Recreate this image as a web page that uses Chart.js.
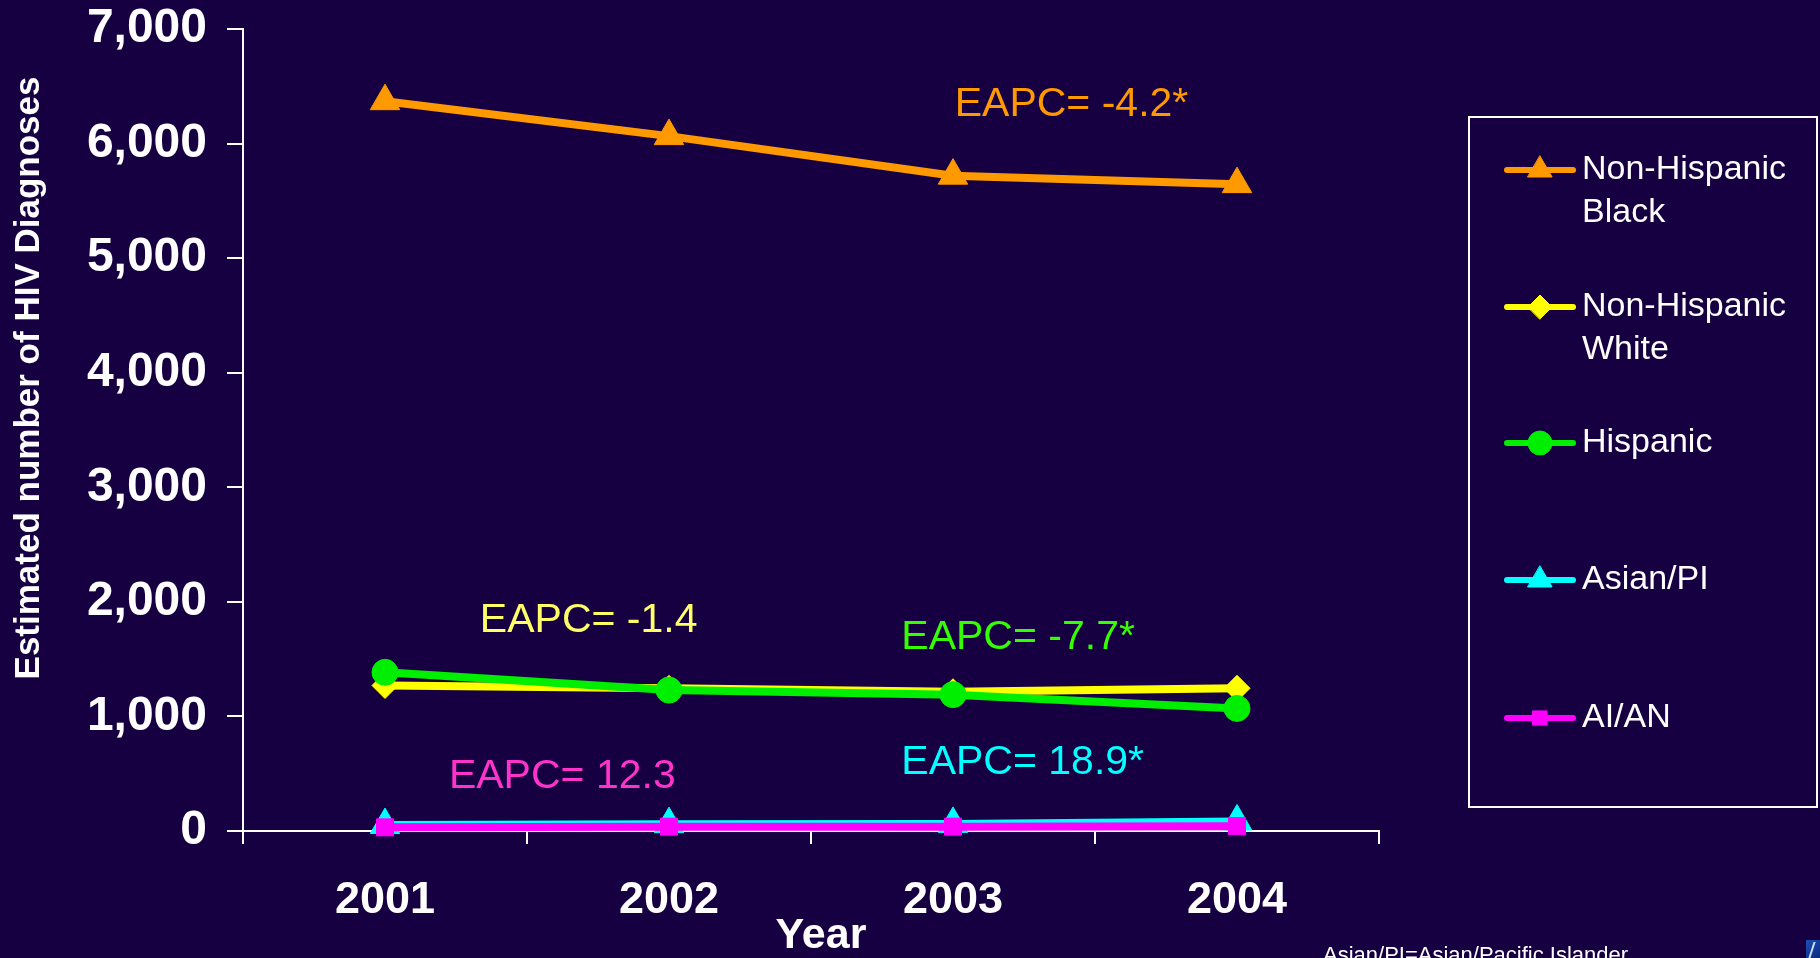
<!DOCTYPE html>
<html>
<head>
<meta charset="utf-8">
<script src="https://cdn.jsdelivr.net/npm/chart.js@4.4.1/dist/chart.umd.min.js"></script>
<style>
  html, body { margin: 0; padding: 0; background: #170042; overflow: hidden; }
  #wrap { position: relative; width: 1820px; height: 958px; }
  canvas { display: block; }
  #logo { position: absolute; left: 1806px; top: 940px; width: 14px; height: 18px;
          background: linear-gradient(135deg, #1d4fb8, #0b2a7a); }
  #logo:after { content: ''; position: absolute; left: 5px; top: 2px; width: 2px; height: 16px;
          background: #cfe0ff; transform: skewX(-18deg); }
</style>
</head>
<body>
<div id="wrap">
  <canvas id="chart" width="1820" height="958"></canvas>
  <div id="logo"></div>
</div>
<script>
// Estimated HIV diagnoses by race/ethnicity, 2001-2004
const years = ['2001', '2002', '2003', '2004'];
const blackValues    = [6370, 6065, 5720, 5646];
const whiteValues    = [1270, 1245, 1215, 1245];
const hispanicValues = [1385, 1230, 1190, 1070];
const asianValues    = [52, 60, 62, 83];
const aianValues     = [32, 38, 38, 42];

const seriesNames = ['Non-Hispanic\nBlack', 'Non-Hispanic\nWhite', 'Hispanic', 'Asian/PI', 'AI/AN'];
const yTickValues = [0, 1000, 2000, 3000, 4000, 5000, 6000, 7000];

// EAPC annotations: text, colour, anchor (category index, value)
const eapcText  = ['EAPC= -4.2*', 'EAPC= -1.4', 'EAPC= -7.7*', 'EAPC= 18.9*', 'EAPC= 12.3'];
const eapcColor = ['#ff9900', '#ffff66', '#33ff00', '#00ffff', '#ff33cc'];
const eapcX     = [2.006, 0.334, 1.818, 1.818, 0.225];
const eapcY     = [6340, 1835, 1690, 598, 476];

const BG = '#170042';
const FONT = "'Liberation Sans', Arial, sans-serif";

const colors  = ['#ff9900', '#ffff00', '#00ee00', '#00ffff', '#ff00ff'];
const styles  = ['triangle', 'rectRot', 'circle', 'triangle', 'rect'];
const radii   = [17, 13, 13, 17, 12];
const values  = [blackValues, whiteValues, hispanicValues, asianValues, aianValues];
const drawOrder = [5, 4, 3, 2, 1];

const datasets = values.map((v, i) => ({
  label: seriesNames[i].replace('\n', ' '),
  data: v,
  borderColor: colors[i],
  backgroundColor: colors[i],
  pointBackgroundColor: colors[i],
  pointBorderColor: colors[i],
  pointBorderWidth: 1,
  pointStyle: styles[i],
  pointRadius: radii[i],
  borderWidth: 8,
  tension: 0,
  clip: false,
  order: drawOrder[i]
}));

const decorPlugin = {
  id: 'decor',
  beforeDraw(chart) {
    const ctx = chart.ctx;
    ctx.save();
    ctx.fillStyle = BG;
    ctx.fillRect(0, 0, chart.width, chart.height);
    ctx.restore();
  },
  afterDraw(chart) {
    const ctx = chart.ctx;
    const xs = chart.scales.x, ys = chart.scales.y;
    ctx.save();

    // EAPC annotations
    ctx.font = '41px ' + FONT;
    ctx.textBaseline = 'middle';
    ctx.textAlign = 'left';
    eapcText.forEach((t, i) => {
      ctx.fillStyle = eapcColor[i];
      ctx.fillText(t, xs.getPixelForValue(eapcX[i]), ys.getPixelForValue(eapcY[i]));
    });

    // Axis titles
    ctx.fillStyle = '#ffffff';
    ctx.font = 'bold 43px ' + FONT;
    ctx.textAlign = 'center';
    ctx.fillText('Year', (chart.chartArea.left + chart.chartArea.right) / 2 + 10, 936);

    ctx.save();
    ctx.translate(29, 378);
    ctx.rotate(-Math.PI / 2);
    ctx.font = 'bold 35px ' + FONT;
    ctx.fillText('Estimated number of HIV Diagnoses', 0, 0);
    ctx.restore();

    // Footnote
    ctx.font = '22px ' + FONT;
    ctx.textAlign = 'left';
    ctx.textBaseline = 'alphabetic';
    ctx.fillText('Asian/PI=Asian/Pacific Islander', 1323, 962);

    // Legend
    const lx = 1469, ly = 117, lw = 348, lh = 690;
    ctx.strokeStyle = '#ffffff';
    ctx.lineWidth = 2;
    ctx.strokeRect(lx, ly, lw, lh);
    const rowY = [170, 307, 443, 580, 718];
    const legendR = [14, 12, 12, 14, 10];
    ctx.textBaseline = 'middle';
    ctx.font = '34px ' + FONT;
    seriesNames.forEach((name, i) => {
      const y = rowY[i];
      ctx.strokeStyle = colors[i];
      ctx.lineWidth = 6;
      ctx.lineCap = 'round';
      ctx.beginPath();
      ctx.moveTo(1507, y);
      ctx.lineTo(1573, y);
      ctx.stroke();
      ctx.fillStyle = colors[i];
      ctx.strokeStyle = colors[i];
      ctx.lineWidth = 1;
      Chart.helpers.drawPoint(ctx, { pointStyle: styles[i], radius: legendR[i], borderWidth: 1, rotation: 0 }, 1540, y);
      ctx.fillStyle = '#ffffff';
      name.split('\n').forEach((line, k) => ctx.fillText(line, 1582, y + k * 43));
    });
    ctx.restore();
  }
};

new Chart(document.getElementById('chart'), {
  type: 'line',
  data: { labels: years, datasets },
  plugins: [decorPlugin],
  options: {
    responsive: false,
    animation: false,
    devicePixelRatio: 1,
    layout: { padding: { left: 0, right: 441, top: 29, bottom: 0 } },
    plugins: { legend: { display: false }, tooltip: { enabled: false } },
    scales: {
      x: {
        type: 'category',
        offset: true,
        afterFit(s) { s.height = 127; s.paddingLeft = 0; s.paddingRight = 0; },
        grid: { offset: true, drawOnChartArea: false, color: '#ffffff', lineWidth: 2, tickLength: 13, tickWidth: 2 },
        border: { color: '#ffffff', width: 2 },
        ticks: { color: '#ffffff', font: { family: FONT, size: 45, weight: 'bold', lineHeight: 1 }, padding: 34, maxRotation: 0 }
      },
      y: {
        min: 0, max: 7000,
        afterFit(s) { s.width = 243; s.paddingTop = 0; s.paddingBottom = 0; },
        afterBuildTicks(s) { s.ticks = yTickValues.map(v => ({ value: v })); },
        grid: { drawOnChartArea: false, color: '#ffffff', lineWidth: 2, tickLength: 16, tickWidth: 2 },
        border: { color: '#ffffff', width: 2 },
        ticks: {
          color: '#ffffff', padding: 20,
          font: { family: FONT, size: 48, weight: 'bold', lineHeight: 1 },
          callback: v => v.toLocaleString('en-US')
        }
      }
    }
  }
});
</script>
</body>
</html>
